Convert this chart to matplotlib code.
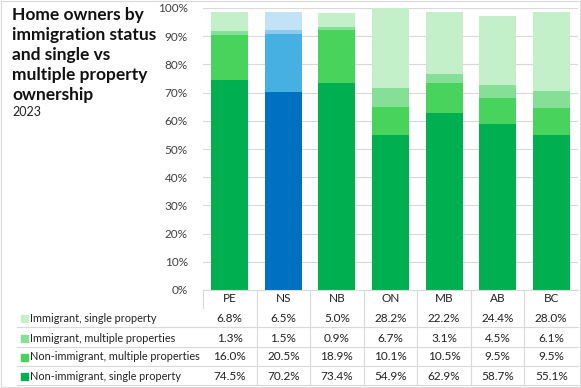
import numpy as np
import matplotlib.pyplot as plt
from matplotlib.patches import Rectangle
from matplotlib.lines import Line2D

plt.rcParams['font.family'] = ['Lato', 'DejaVu Sans']

provinces = ['PE', 'NS', 'NB', 'ON', 'MB', 'AB', 'BC']
series_names = ['Immigrant, single property',
                'Immigrant, multiple properties',
                'Non-immigrant, multiple properties',
                'Non-immigrant, single property']
imm_single = [6.8, 6.5, 5.0, 28.2, 22.2, 24.4, 28.0]
imm_multi = [1.3, 1.5, 0.9, 6.7, 3.1, 4.5, 6.1]
non_multi = [16.0, 20.5, 18.9, 10.1, 10.5, 9.5, 9.5]
non_single = [74.5, 70.2, 73.4, 54.9, 62.9, 58.7, 55.1]

greens = ['#C3EFC9', '#86DF96', '#48D35C', '#00B050']
blues = ['#C2E3F5', '#8DCBEE', '#45B0E1', '#0070C0']
highlight = 'NS'

W, H = 581, 388
fig = plt.figure(figsize=(W / 100, H / 100), dpi=100)

def fx(x):
    return x / W

def fy(y):
    return 1 - y / H

ax_left, ax_right, ax_top, ax_bot = 203, 578, 8, 290
ax = fig.add_axes([fx(ax_left), fy(ax_bot), fx(ax_right - ax_left), (ax_bot - ax_top) / H])

x = np.arange(len(provinces))
stack = [non_single, non_multi, imm_multi, imm_single]  # bottom to top
bottom = np.zeros(len(provinces))
for k, vals in enumerate(stack):
    vals = np.array(vals)
    cols = []
    for p in provinces:
        pal = blues if p == highlight else greens
        cols.append(pal[3 - k])
    ax.bar(x, vals, 0.69, bottom=bottom, color=cols, zorder=2)
    bottom += vals

ax.set_xlim(-0.5, len(provinces) - 0.5)
ax.set_ylim(0, 100)
ax.set_yticks(np.arange(0, 101, 10))
ax.set_yticklabels([f'{v}%' for v in range(0, 101, 10)], fontsize=8.5, color='#404040')
ax.set_xticks([])
ax.grid(axis='y', color='#D9D9D9', linewidth=0.8, zorder=0)
for s in ['top', 'right', 'left']:
    ax.spines[s].set_visible(False)
ax.spines['bottom'].set_color('#D9D9D9')
ax.tick_params(axis='y', length=0, pad=11)

# title
fig.text(fx(12), fy(7), 'Home owners by\nimmigration status\nand single vs\nmultiple property\nownership',
         fontsize=12.5, fontweight='bold', va='top', ha='left', linespacing=1.3, color='#111111')
fig.text(fx(12), fy(116), '2023', fontsize=9, va='baseline', ha='left', color='#222222')

# data table below the axes
col_w = (ax_right - ax_left) / len(provinces)
centers = [ax_left + col_w * (i + 0.5) for i in range(len(provinces))]
header_y = 299
row_ys = [318, 338, 357, 376]
line_ys = [327, 347, 366, 385]
grid_c = '#D9D9D9'

for i, p in enumerate(provinces):
    fig.text(fx(centers[i]), fy(header_y), p, fontsize=8.5, ha='center', va='center', color='#222222')

table_rows = [imm_single, imm_multi, non_multi, non_single]
for r, vals in enumerate(table_rows):
    yy = row_ys[r]
    fig.patches.append(Rectangle((fx(21), fy(yy + 3.5)), 7 / W, 7 / H,
                                 transform=fig.transFigure, color=greens[r], figure=fig))
    fig.text(fx(30), fy(yy), series_names[r], fontsize=7.8, ha='left', va='center', color='#222222')
    for i, v in enumerate(vals):
        fig.text(fx(centers[i]), fy(yy), f'{v:.1f}%', fontsize=8.5, ha='center', va='center',
                 color='#222222')

for ly in line_ys:
    fig.lines.append(Line2D([fx(17), fx(ax_right)], [fy(ly), fy(ly)], transform=fig.transFigure,
                            color=grid_c, linewidth=0.8))
for i in range(1, len(provinces)):
    xx = ax_left + col_w * i
    fig.lines.append(Line2D([fx(xx), fx(xx)], [fy(ax_bot), fy(385)], transform=fig.transFigure,
                            color=grid_c, linewidth=0.8))
fig.lines.append(Line2D([fx(ax_left), fx(ax_left)], [fy(ax_bot), fy(308)], transform=fig.transFigure,
                        color=grid_c, linewidth=0.8))

# outer frame
fig.patches.append(Rectangle((0.002, 0.002), 0.996, 0.996, transform=fig.transFigure,
                             fill=False, edgecolor='#D9D9D9', linewidth=0.8, figure=fig))

fig.savefig('out.png', dpi=100)
